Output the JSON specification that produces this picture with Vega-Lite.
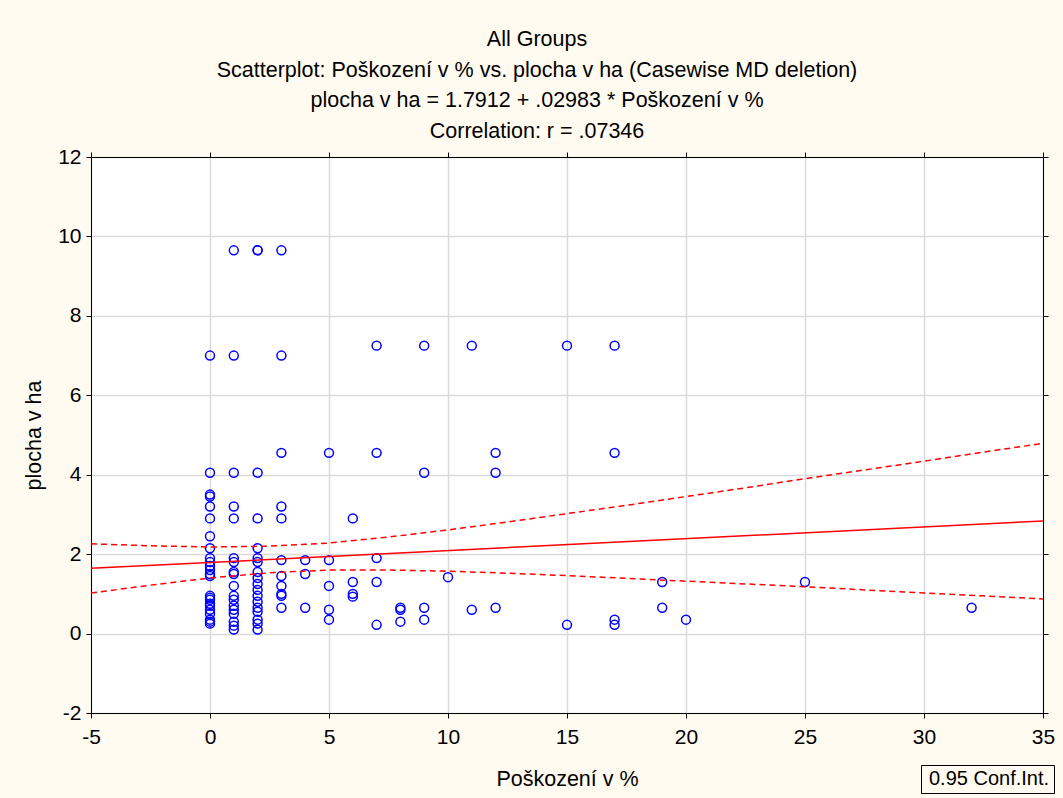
{
  "$schema": "https://vega.github.io/schema/vega-lite/v6.json",
  "width": 952,
  "height": 556,
  "autosize": {"type": "none"},
  "padding": {"left": 91, "top": 157, "right": 20, "bottom": 85},
  "background": "#FFFBF0",
  "title": {
    "text": ["All Groups", "Scatterplot: Poškození v % vs. plocha v ha (Casewise MD deletion)", "plocha v ha = 1.7912 + .02983 * Poškození v %", "Correlation: r = .07346"],
    "font": "Liberation Sans",
    "fontSize": 21.5,
    "fontWeight": "normal",
    "color": "#000000",
    "lineHeight": 30.5,
    "anchor": "middle",
    "dx": -30,
    "offset": 4
  },
  "config": {
    "view": {"stroke": "#000000", "strokeWidth": 1, "fill": "#FFFFFF"},
    "axis": {
      "labelFont": "Liberation Sans",
      "labelFontSize": 21,
      "labelColor": "#000000",
      "titleFont": "Liberation Sans",
      "titleFontSize": 21.5,
      "titleFontWeight": "normal",
      "titleColor": "#000000",
      "domainColor": "#000000",
      "tickColor": "#000000",
      "tickSize": 5,
      "gridColor": "#DADADA",
      "gridWidth": 1.5
    }
  },
  "datasets": {
    "pts": [
      {"x": 0, "y": 7.0}, {"x": 0, "y": 4.05}, {"x": 0, "y": 3.5}, {"x": 0, "y": 3.45}, {"x": 0, "y": 3.2}, {"x": 0, "y": 2.9}, {"x": 0, "y": 2.45}, {"x": 0, "y": 2.15}, {"x": 0, "y": 1.9}, {"x": 0, "y": 1.8}, {"x": 0, "y": 1.7}, {"x": 0, "y": 1.6}, {"x": 0, "y": 1.5}, {"x": 0, "y": 1.45}, {"x": 0, "y": 0.95}, {"x": 0, "y": 0.9}, {"x": 0, "y": 0.85}, {"x": 0, "y": 0.75}, {"x": 0, "y": 0.7}, {"x": 0, "y": 0.6}, {"x": 0, "y": 0.5}, {"x": 0, "y": 0.35}, {"x": 0, "y": 0.3}, {"x": 0, "y": 0.25},
      {"x": 1, "y": 9.65}, {"x": 1, "y": 7.0}, {"x": 1, "y": 4.05}, {"x": 1, "y": 3.2}, {"x": 1, "y": 2.9}, {"x": 1, "y": 1.9}, {"x": 1, "y": 1.8}, {"x": 1, "y": 1.55}, {"x": 1, "y": 1.5}, {"x": 1, "y": 1.2}, {"x": 1, "y": 0.95}, {"x": 1, "y": 0.85}, {"x": 1, "y": 0.7}, {"x": 1, "y": 0.6}, {"x": 1, "y": 0.5}, {"x": 1, "y": 0.3}, {"x": 1, "y": 0.2}, {"x": 1, "y": 0.1},
      {"x": 2, "y": 9.65}, {"x": 2, "y": 9.65}, {"x": 2, "y": 4.05}, {"x": 2, "y": 2.9}, {"x": 2, "y": 2.15}, {"x": 2, "y": 1.9}, {"x": 2, "y": 1.8}, {"x": 2, "y": 1.55}, {"x": 2, "y": 1.4}, {"x": 2, "y": 1.25}, {"x": 2, "y": 1.1}, {"x": 2, "y": 0.95}, {"x": 2, "y": 0.8}, {"x": 2, "y": 0.65}, {"x": 2, "y": 0.55}, {"x": 2, "y": 0.35}, {"x": 2, "y": 0.25}, {"x": 2, "y": 0.1},
      {"x": 3, "y": 9.65}, {"x": 3, "y": 7.0}, {"x": 3, "y": 4.55}, {"x": 3, "y": 3.2}, {"x": 3, "y": 2.9}, {"x": 3, "y": 1.85}, {"x": 3, "y": 1.45}, {"x": 3, "y": 1.2}, {"x": 3, "y": 1.0}, {"x": 3, "y": 0.95}, {"x": 3, "y": 0.65},
      {"x": 4, "y": 1.85}, {"x": 4, "y": 1.5}, {"x": 4, "y": 0.65},
      {"x": 5, "y": 4.55}, {"x": 5, "y": 1.85}, {"x": 5, "y": 1.2}, {"x": 5, "y": 0.6}, {"x": 5, "y": 0.35},
      {"x": 6, "y": 2.9}, {"x": 6, "y": 1.3}, {"x": 6, "y": 1.0}, {"x": 6, "y": 0.93},
      {"x": 7, "y": 7.25}, {"x": 7, "y": 4.55}, {"x": 7, "y": 1.9}, {"x": 7, "y": 1.3}, {"x": 7, "y": 0.22},
      {"x": 8, "y": 0.65}, {"x": 8, "y": 0.6}, {"x": 8, "y": 0.3},
      {"x": 9, "y": 7.25}, {"x": 9, "y": 4.05}, {"x": 9, "y": 0.65}, {"x": 9, "y": 0.35},
      {"x": 10, "y": 1.42},
      {"x": 11, "y": 7.25}, {"x": 11, "y": 0.6},
      {"x": 12, "y": 4.55}, {"x": 12, "y": 4.05}, {"x": 12, "y": 0.65},
      {"x": 15, "y": 7.25}, {"x": 15, "y": 0.22},
      {"x": 17, "y": 7.25}, {"x": 17, "y": 4.55}, {"x": 17, "y": 0.35}, {"x": 17, "y": 0.22},
      {"x": 19, "y": 1.3}, {"x": 19, "y": 0.65},
      {"x": 20, "y": 0.35},
      {"x": 25, "y": 1.3},
      {"x": 32, "y": 0.65}
    ],
    "fit": [
      {"x": -5, "y": 1.642},
      {"x": 35, "y": 2.835}
    ],
    "band": [
      {"x": -5, "y": 2.26, "bound": "upper", "ci": "0.95 Conf.Int."},
      {"x": -2.5, "y": 2.21, "bound": "upper", "ci": "0.95 Conf.Int."},
      {"x": 0, "y": 2.18, "bound": "upper", "ci": "0.95 Conf.Int."},
      {"x": 2.5, "y": 2.2, "bound": "upper", "ci": "0.95 Conf.Int."},
      {"x": 5, "y": 2.28, "bound": "upper", "ci": "0.95 Conf.Int."},
      {"x": 7.5, "y": 2.43, "bound": "upper", "ci": "0.95 Conf.Int."},
      {"x": 10, "y": 2.61, "bound": "upper", "ci": "0.95 Conf.Int."},
      {"x": 12.5, "y": 2.81, "bound": "upper", "ci": "0.95 Conf.Int."},
      {"x": 15, "y": 3.02, "bound": "upper", "ci": "0.95 Conf.Int."},
      {"x": 17.5, "y": 3.23, "bound": "upper", "ci": "0.95 Conf.Int."},
      {"x": 20, "y": 3.45, "bound": "upper", "ci": "0.95 Conf.Int."},
      {"x": 22.5, "y": 3.67, "bound": "upper", "ci": "0.95 Conf.Int."},
      {"x": 25, "y": 3.9, "bound": "upper", "ci": "0.95 Conf.Int."},
      {"x": 27.5, "y": 4.12, "bound": "upper", "ci": "0.95 Conf.Int."},
      {"x": 30, "y": 4.34, "bound": "upper", "ci": "0.95 Conf.Int."},
      {"x": 32.5, "y": 4.57, "bound": "upper", "ci": "0.95 Conf.Int."},
      {"x": 35, "y": 4.79, "bound": "upper", "ci": "0.95 Conf.Int."},
      {"x": -5, "y": 1.02, "bound": "lower", "ci": "0.95 Conf.Int."},
      {"x": -2.5, "y": 1.22, "bound": "lower", "ci": "0.95 Conf.Int."},
      {"x": 0, "y": 1.4, "bound": "lower", "ci": "0.95 Conf.Int."},
      {"x": 2.5, "y": 1.53, "bound": "lower", "ci": "0.95 Conf.Int."},
      {"x": 5, "y": 1.6, "bound": "lower", "ci": "0.95 Conf.Int."},
      {"x": 7.5, "y": 1.6, "bound": "lower", "ci": "0.95 Conf.Int."},
      {"x": 10, "y": 1.57, "bound": "lower", "ci": "0.95 Conf.Int."},
      {"x": 12.5, "y": 1.52, "bound": "lower", "ci": "0.95 Conf.Int."},
      {"x": 15, "y": 1.46, "bound": "lower", "ci": "0.95 Conf.Int."},
      {"x": 17.5, "y": 1.39, "bound": "lower", "ci": "0.95 Conf.Int."},
      {"x": 20, "y": 1.32, "bound": "lower", "ci": "0.95 Conf.Int."},
      {"x": 22.5, "y": 1.25, "bound": "lower", "ci": "0.95 Conf.Int."},
      {"x": 25, "y": 1.18, "bound": "lower", "ci": "0.95 Conf.Int."},
      {"x": 27.5, "y": 1.1, "bound": "lower", "ci": "0.95 Conf.Int."},
      {"x": 30, "y": 1.02, "bound": "lower", "ci": "0.95 Conf.Int."},
      {"x": 32.5, "y": 0.95, "bound": "lower", "ci": "0.95 Conf.Int."},
      {"x": 35, "y": 0.87, "bound": "lower", "ci": "0.95 Conf.Int."}
    ]
  },
  "resolve": {"axis": {"x": "independent", "y": "independent"}},
  "layer": [
    {
      "data": {"name": "pts"},
      "mark": {"type": "point", "shape": "circle", "filled": false, "color": "#0000FF", "size": 80, "strokeWidth": 1.5, "opacity": 1},
      "encoding": {
        "x": {"field": "x", "type": "quantitative", "scale": {"domain": [-5, 35], "nice": false, "zero": false},
          "axis": {"title": "Poškození v %", "values": [-5, 0, 5, 10, 15, 20, 25, 30, 35], "labelExpr": "toString(datum.value)", "labelPadding": 8, "titlePadding": 21, "labelFlush": false}},
        "y": {"field": "y", "type": "quantitative", "scale": {"domain": [-2, 12], "nice": false, "zero": false},
          "axis": {"title": "plocha v ha", "values": [-2, 0, 2, 4, 6, 8, 10, 12], "labelExpr": "toString(datum.value)", "labelPadding": 5, "titlePadding": 12, "labelFlush": false}}
      }
    },
    {
      "data": {"name": "fit"},
      "mark": {"type": "line", "color": "#FF0000", "strokeWidth": 1.5},
      "encoding": {
        "x": {"field": "x", "type": "quantitative", "axis": {"orient": "top", "labels": false, "title": null, "grid": false, "values": [-5, 0, 5, 10, 15, 20, 25, 30, 35]}},
        "y": {"field": "y", "type": "quantitative", "axis": {"orient": "right", "labels": false, "title": null, "grid": false, "values": [-2, 0, 2, 4, 6, 8, 10, 12]}}
      }
    },
    {
      "data": {"name": "band"},
      "mark": {"type": "line", "color": "#FF0000", "strokeWidth": 1.5},
      "encoding": {
        "x": {"field": "x", "type": "quantitative", "axis": null},
        "y": {"field": "y", "type": "quantitative", "axis": null},
        "detail": {"field": "bound"},
        "strokeDash": {"field": "ci", "type": "nominal", "scale": {"range": [[6, 4]]},
          "legend": {"title": null, "orient": "none", "legendX": 830, "legendY": 608, "strokeColor": "#000000", "fillColor": "#FFFBF0", "padding": 4, "symbolOpacity": 0, "symbolSize": 0, "symbolStrokeWidth": 0, "labelOffset": -16, "labelFont": "Liberation Sans", "labelFontSize": 20, "labelColor": "#000000", "labelLimit": 300}}
      }
    }
  ]
}
